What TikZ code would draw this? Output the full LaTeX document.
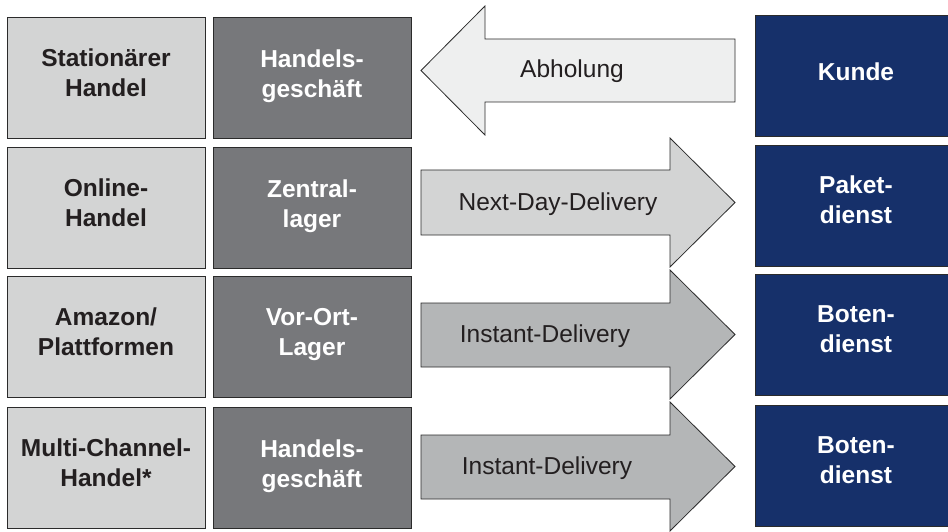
\documentclass[tikz,border=0pt]{standalone}
\usepackage{fontspec}
\setmainfont{Liberation Sans}
\definecolor{lgray}{HTML}{D3D4D4}
\definecolor{dgray}{HTML}{77787B}
\definecolor{navy}{HTML}{16306A}
\definecolor{pale}{HTML}{EEEFEF}
\definecolor{mgray}{HTML}{B4B6B7}
\definecolor{txt}{HTML}{231F20}
\definecolor{edge}{HTML}{2B2B2B}
\tikzset{
  basebox/.style={draw=edge, line width=0.9pt, minimum width=198pt, minimum height=121pt, inner sep=0pt},
  leftbox/.style={basebox, fill=lgray},
  midbox/.style={basebox, fill=dgray},
  rightbox/.style={basebox, fill=navy, minimum width=200pt, anchor=west},
  boxtext/.style={inner sep=0pt, align=center, font=\fontsize{24.5}{30}\selectfont\bfseries},
  darktext/.style={boxtext, text=txt},
  lighttext/.style={boxtext, text=white},
  arrowshape/.style={draw=edge, line width=0.8pt, line join=miter},
  arrowtext/.style={font=\fontsize{24.5}{30}\selectfont, text=txt, inner sep=0pt}
}
\begin{document}
\begin{tikzpicture}[x=1pt,y=-1pt]
\useasboundingbox (0,0) rectangle (948,532);
\fill[white] (0,0) rectangle (948,532);
% left column
\node[leftbox] (l1) at (106,77.5) {};
\node[leftbox] (l2) at (106,207.5) {};
\node[leftbox] (l3) at (106,336.5) {};
\node[leftbox] (l4) at (106,467.5) {};
\node[darktext] (l1t) at ([yshift=5pt]l1.center) {Stationärer\\Handel};
\node[darktext] (l2t) at ([yshift=5pt]l2.center) {Online-\\Handel};
\node[darktext] (l3t) at ([yshift=5pt]l3.center) {Amazon/\\Plattformen};
\node[darktext] (l4t) at ([yshift=5pt]l4.center) {Multi-Channel-\\Handel*};
% middle column
\node[midbox] (m1) at (312,77.5) {};
\node[midbox] (m2) at (312,207.5) {};
\node[midbox] (m3) at (312,336.5) {};
\node[midbox] (m4) at (312,467.5) {};
\node[lighttext] (m1t) at ([yshift=1.5pt]m1.center) {Handels-\\geschäft};
\node[lighttext] (m2t) at ([yshift=1.5pt]m2.center) {Zentral-\\lager};
\node[lighttext] (m3t) at ([yshift=1.5pt]m3.center) {Vor-Ort-\\Lager};
\node[lighttext] (m4t) at ([yshift=1.5pt]m4.center) {Handels-\\geschäft};
% right column
\node[rightbox] (r1) at (755,76) {};
\node[rightbox] (r2) at (755,206) {};
\node[rightbox] (r3) at (755,335) {};
\node[rightbox] (r4) at (755,466) {};
\node[lighttext] (r1t) at (856,72) {Kunde};
\node[lighttext] (r2t) at ([yshift=6pt]r2.west -| r1t) {Paket-\\dienst};
\node[lighttext] (r3t) at ([yshift=6pt]r3.west -| r1t) {Boten-\\dienst};
\node[lighttext] (r4t) at ([yshift=6pt]r4.west -| r1t) {Boten-\\dienst};
% arrows
\draw[arrowshape, fill=pale] (735,39) -- (485,39) -- (485,6) -- (421,70.5) -- (485,135) -- (485,102) -- (735,102) -- cycle;
\node[arrowtext] (a1) at (572,71.5) {Abholung};
\draw[arrowshape, fill=lgray] (421,170) -- (670,170) -- (670,138) -- (735,202.5) -- (670,267) -- (670,235) -- (421,235) -- cycle;
\node[arrowtext] (a2) at (558,204.5) {Next-Day-Delivery};
\draw[arrowshape, fill=mgray] (421,303) -- (670,303) -- (670,270) -- (735,334.5) -- (670,399) -- (670,367) -- (421,367) -- cycle;
\node[arrowtext] (a3) at (545,336.5) {Instant-Delivery};
\draw[arrowshape, fill=mgray] (421,435) -- (670,435) -- (670,402) -- (735,466.5) -- (670,531) -- (670,499) -- (421,499) -- cycle;
\node[arrowtext] (a4) at (547,468.5) {Instant-Delivery};
\end{tikzpicture}
\end{document}
